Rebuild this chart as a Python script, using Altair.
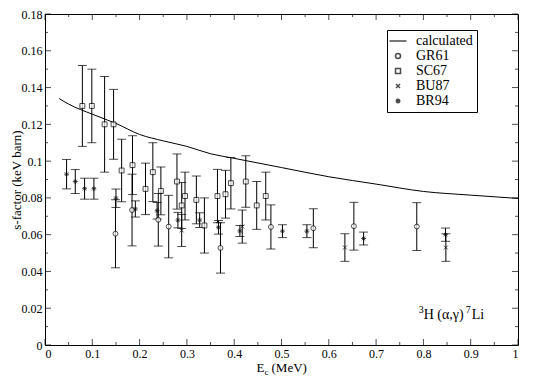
import altair as alt
import pandas as pd

FONT = "Liberation Serif"

# calculated curve
calc_e = [0.03, 0.05, 0.1, 0.15, 0.2, 0.25, 0.3, 0.35, 0.4, 0.5, 0.6, 0.7, 0.8, 0.9, 1.0]
calc_s = [0.134, 0.131, 0.1255, 0.1205, 0.1145, 0.111, 0.108, 0.104, 0.1015, 0.0965, 0.0915, 0.0875, 0.0835, 0.0815, 0.0797]

# GR61
gr61_e = [0.149, 0.184, 0.2395, 0.2615, 0.371, 0.4776, 0.5673, 0.653, 0.786]
gr61_s = [0.0605, 0.0734, 0.0681, 0.0644, 0.0528, 0.0642, 0.0635, 0.0646, 0.0644]
gr61_err = [0.0185, 0.0195, 0.0143, 0.017, 0.0137, 0.012, 0.0106, 0.013, 0.013]

# SC67
sc67_e = [0.079, 0.099, 0.126, 0.145, 0.162, 0.185, 0.2125, 0.228, 0.245, 0.279, 0.289, 0.296,
          0.320, 0.337, 0.3646, 0.3816, 0.393, 0.4245, 0.4476, 0.4667]
sc67_s = [0.130, 0.130, 0.120, 0.120, 0.0949, 0.0978, 0.0849, 0.094, 0.0838, 0.0889, 0.0759, 0.081,
          0.0789, 0.065, 0.081, 0.082, 0.088, 0.0889, 0.0759, 0.081]
sc67_err = [0.022, 0.020, 0.026, 0.019, 0.017, 0.016, 0.014, 0.016, 0.013, 0.015, 0.0125, 0.013,
            0.013, 0.015, 0.0145, 0.013, 0.014, 0.014, 0.013, 0.013]

# BU87
bu87_e = [0.289, 0.417, 0.634, 0.8475]
bu87_s = [0.0623, 0.0644, 0.053, 0.053]
bu87_err = [0.0087, 0.009, 0.0075, 0.0075]

# BR94
br94_e = [0.0456, 0.064, 0.0837, 0.1034, 0.150, 0.191, 0.237, 0.281, 0.327, 0.3667, 0.412, 0.502,
          0.5537, 0.6736, 0.8468]
br94_s = [0.0929, 0.0889, 0.085, 0.085, 0.0798, 0.074, 0.073, 0.0679, 0.0679, 0.064, 0.062, 0.0619,
          0.0619, 0.0579, 0.060]
br94_err = [0.008, 0.0065, 0.0057, 0.0057, 0.005, 0.0044, 0.0045, 0.0042, 0.004, 0.0037, 0.003, 0.0035,
            0.0035, 0.0035, 0.0036]

# axis ticks
x_major = [0, 0.1, 0.2, 0.3, 0.4, 0.5, 0.6, 0.7, 0.8, 0.9, 1]
x_minor = [0.05, 0.15, 0.25, 0.35, 0.45, 0.55, 0.65, 0.75, 0.85, 0.95]
y_major = [0, 0.02, 0.04, 0.06, 0.08, 0.1, 0.12, 0.14, 0.16, 0.18]
y_minor = [0.01, 0.03, 0.05, 0.07, 0.09, 0.11, 0.13, 0.15, 0.17]

legend_names = ["calculated", "GR61", "SC67", "BU87", "BR94"]
shape_range = [
    "M-3.4,0L3.4,0",
    "circle",
    "square",
    "M-0.8,-0.8L0.8,0.8M-0.8,0.8L0.8,-0.8",
    "M-1,0L1,0M0,-1L0,1M-0.7,-0.7L0.7,0.7M-0.7,0.7L0.7,-0.7",
]

W, H = 473, 331

rows = []
for name, es, ss, errs in [("GR61", gr61_e, gr61_s, gr61_err), ("SC67", sc67_e, sc67_s, sc67_err),
                           ("BU87", bu87_e, bu87_s, bu87_err), ("BR94", br94_e, br94_s, br94_err)]:
    for e, s, d in zip(es, ss, errs):
        rows.append({"series": name, "e": e, "s": s, "lo": s - d, "hi": s + d})
pts = pd.DataFrame(rows)
calc = pd.DataFrame({"e": calc_e, "s": calc_s})

xs = alt.Scale(domain=[0, 1], nice=False, zero=False)
ys = alt.Scale(domain=[0, 0.18], nice=False, zero=False)
shape_scale = alt.Scale(domain=legend_names, range=shape_range)

x_axis = alt.Axis(values=x_major, format="~g", ticks=False, domain=False, grid=False, labelPadding=3,
                  title=None, labelFont=FONT, labelFontSize=12, labelColor="black")
y_axis = alt.Axis(values=y_major, format="~g", ticks=False, domain=False, grid=False, labelPadding=3,
                  title="s-factor (keV barn)", titleFont=FONT, titleFontSize=13, titleFontWeight="normal",
                  titleColor="black", titleAngle=270, titleX=-25, titleY=H / 2, titleAlign="center",
                  titleBaseline="alphabetic", labelFont=FONT, labelFontSize=12, labelColor="black")

X = lambda f: alt.X(f, scale=xs, axis=x_axis)
Y = lambda f: alt.Y(f, scale=ys, axis=y_axis)

line = alt.Chart(calc).mark_line(color="black", strokeWidth=1, interpolate="monotone").encode(
    x=X("e:Q"), y=Y("s:Q"))

bars = alt.Chart(pts).mark_rule(color="black", strokeWidth=1).encode(
    x=X("e:Q"), y=Y("lo:Q"), y2="hi:Q")
cap_lo = alt.Chart(pts).mark_tick(color="black", orient="horizontal", size=9, thickness=1).encode(
    x=X("e:Q"), y=Y("lo:Q"))
cap_hi = alt.Chart(pts).mark_tick(color="black", orient="horizontal", size=9, thickness=1).encode(
    x=X("e:Q"), y=Y("hi:Q"))

points = alt.Chart(pts).mark_point(filled=False, color="black", fill="white", size=24, strokeWidth=1).encode(
    x=X("e:Q"),
    y=Y("s:Q"),
    shape=alt.Shape("series:N", scale=shape_scale,
                    legend=alt.Legend(title=None, orient="none", legendX=342, legendY=16,
                                      strokeColor="black", fillColor="white", padding=4,
                                      symbolSize=25, labelOffset=11, labelFont=FONT, labelFontSize=14,
                                      labelColor="black", rowPadding=1)),
)

# inward ticks on all four sides
ymaj = pd.DataFrame({"e": y_major})
ymin = pd.DataFrame({"e": y_minor})
xmaj = pd.DataFrame({"e": x_major})
xmin = pd.DataFrame({"e": x_minor})

def yticks(df, xpos, length):
    return alt.Chart(df).mark_tick(color="black", orient="horizontal", size=length, thickness=1).encode(
        y=Y("e:Q"), x=alt.value(xpos))

def xticks(df, ypos, length):
    return alt.Chart(df).mark_tick(color="black", orient="vertical", size=length, thickness=1).encode(
        x=X("e:Q"), y=alt.value(ypos))

ticks = [
    yticks(ymaj, 3, 6), yticks(ymin, 1.5, 3), yticks(ymaj, W - 3, 6), yticks(ymin, W - 1.5, 3),
    xticks(xmaj, H - 3, 6), xticks(xmin, H - 1.5, 3), xticks(xmaj, 3, 6), xticks(xmin, 1.5, 3),
]

# x-axis title with subscript
anno = pd.DataFrame({"e": [0.5]})
TY = H + 27
xt_E = alt.Chart(anno).mark_text(text="E", align="left", baseline="alphabetic", font=FONT, fontSize=13,
                                 dx=-25, color="black").encode(x=X("e:Q"), y=alt.value(TY))
xt_c = alt.Chart(anno).mark_text(text="c", align="left", baseline="alphabetic", font=FONT, fontSize=9,
                                 dx=-17, dy=2.5, color="black").encode(x=X("e:Q"), y=alt.value(TY))
xt_rest = alt.Chart(anno).mark_text(text="(MeV)", align="left", baseline="alphabetic", font=FONT, fontSize=13,
                                    dx=-10, color="black").encode(x=X("e:Q"), y=alt.value(TY))

# reaction label
lab = pd.DataFrame({"e": [0.79], "s": [0.0144]})
def lab_text(t, dx, size, dy=0):
    return alt.Chart(lab).mark_text(text=t, align="left", baseline="alphabetic", font=FONT, fontSize=size,
                                    dx=dx, dy=dy, color="black").encode(x=X("e:Q"), y=Y("s:Q"))

labels = [lab_text("3", 0, 10, -6), lab_text("H (α,γ)", 5, 14), lab_text("7", 47, 10, -6), lab_text("Li", 53, 14)]

chart = alt.layer(line, bars, cap_lo, cap_hi, points, *ticks, xt_E, xt_c, xt_rest, *labels).properties(
    width=W, height=H,
    padding={"left": 37, "top": 6, "right": 14, "bottom": 32},
    autosize=alt.AutoSizeParams(type="none"),
    background="white",
).configure_view(stroke="black", strokeWidth=1).configure_axis(
    labelFont=FONT, titleFont=FONT).configure_legend(labelFont=FONT).configure_text(font=FONT)

chart.save("out.html", embed_options={"renderer": "svg", "actions": False})
